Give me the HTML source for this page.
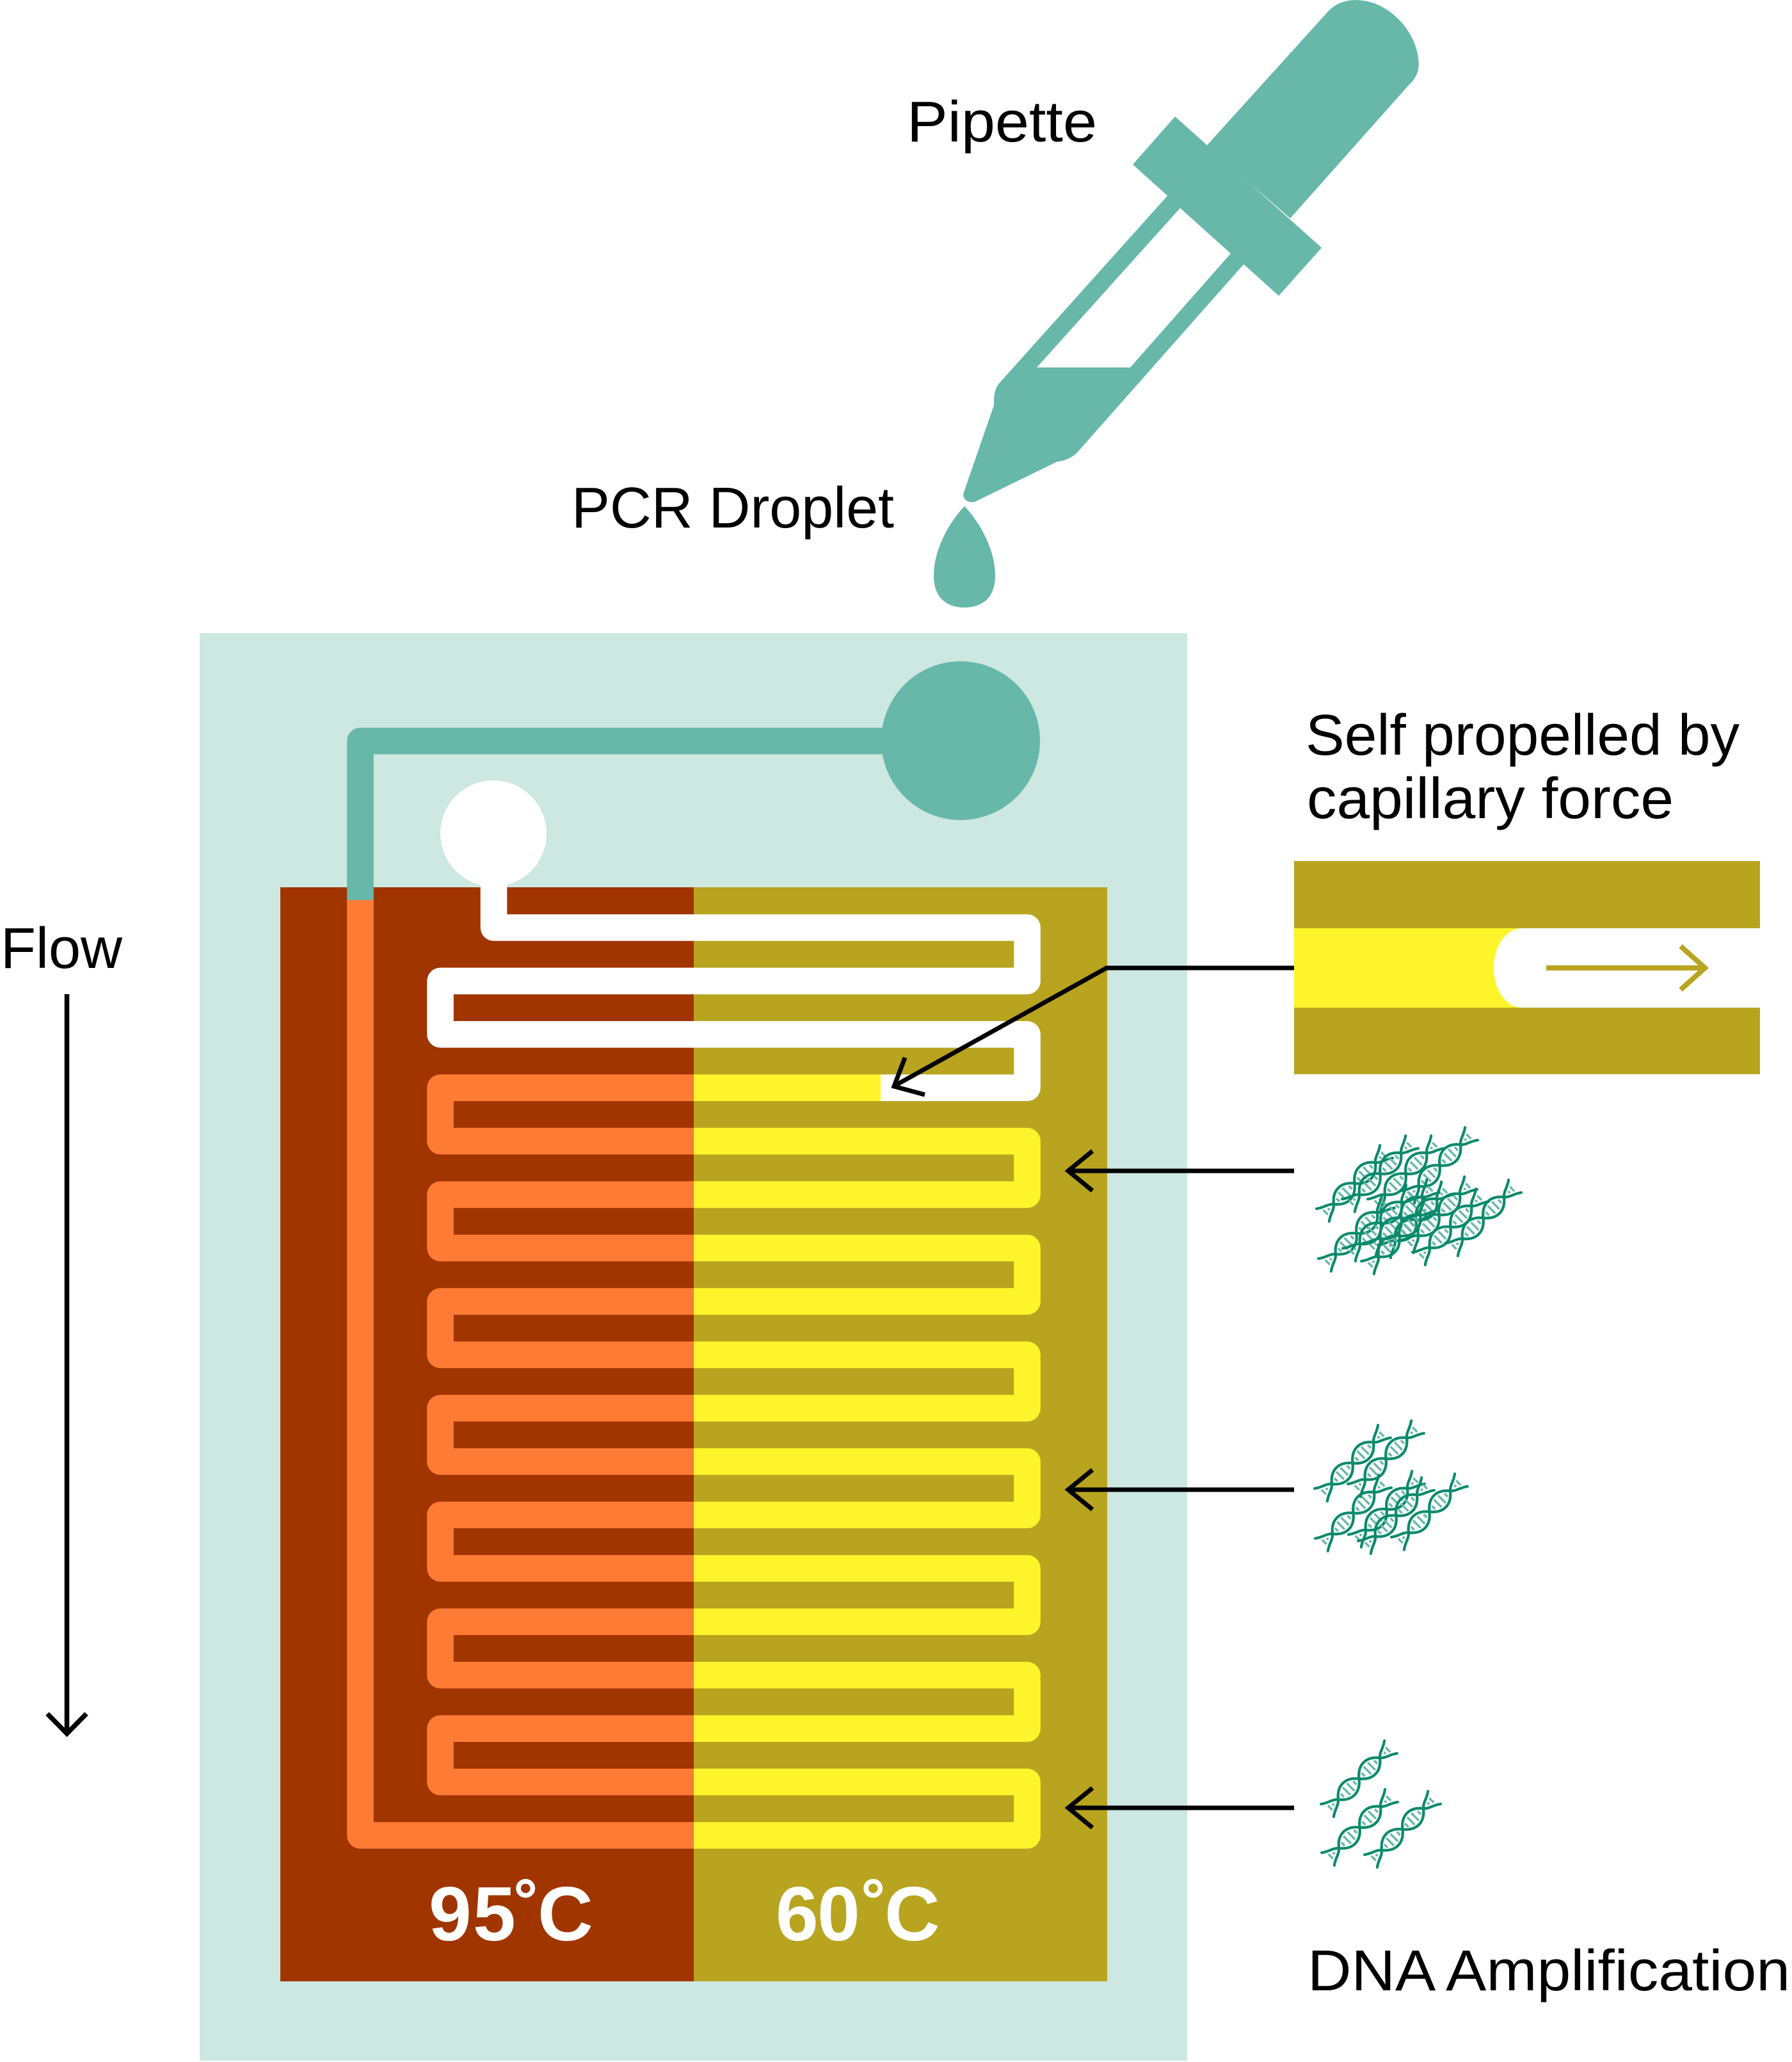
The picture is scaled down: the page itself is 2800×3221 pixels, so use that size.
<!DOCTYPE html>
<html>
<head>
<meta charset="utf-8">
<style>
html,body{margin:0;padding:0;background:#ffffff;}
svg{display:block;}
</style>
</head>
<body>
<svg width="2800" height="3221" viewBox="0 0 2800 3221" xmlns="http://www.w3.org/2000/svg">
<defs>
  <clipPath id="clipL"><rect x="0" y="0" width="1084" height="3221"/></clipPath>
  <clipPath id="clipR"><rect x="1084" y="0" width="1716" height="3221"/></clipPath>
  <g id="hx">
    <path d="M6,-5V5 M13,-2V2 M33.2,-3.6V3.6 M42.4,-8.4V8.4 M51.6,-8.4V8.4 M60.8,-3.6V3.6 M79.2,-3.6V3.6 M88.4,-8.4V8.4 M97.6,-8.4V8.4 M106.8,-3.6V3.6 M127,-2V2 M134,-5V5" stroke="#67B8A9" stroke-width="3.4" fill="none"/>
    <path d="M0,-14 C9,-7 18,-7 24,0 C37.8,17.3 56.2,17.3 70,0 C83.8,-17.3 102.2,-17.3 116,0 C122,7 131,7 140,14" stroke="#0A8A6C" stroke-width="4.2" fill="none" stroke-linecap="round"/>
    <path d="M0,14 C9,7 18,7 24,0 C37.8,-17.3 56.2,-17.3 70,0 C83.8,17.3 102.2,17.3 116,0 C122,-7 131,-7 140,-14" stroke="#0A8A6C" stroke-width="4.2" fill="none" stroke-linecap="round"/>
  </g>
</defs>

<rect x="0" y="0" width="2800" height="3221" fill="#ffffff"/>

<!-- Pipette -->
<path d="M1850,277 L1561,599 Q1553,609 1553,626 L1553,633 L1507,766 Q1502,778 1512,783 Q1518,786 1525,783 L1652,721 Q1671,719 1683,707 L1974,378 Z" fill="#67B8A9"/>
<polygon points="1844,325 1923,396 1766,574 1620,574" fill="#ffffff"/>
<polygon points="1836,182 1770,257 1998,462 2065,387" fill="#67B8A9"/>
<path d="M1885,228 L2075,18 C2090,2 2110,-2 2130,1 C2170,6 2210,45 2216,90 C2219,110 2213,122 2202,132 L2016,341 Z" fill="#67B8A9"/>
<!-- Droplet -->
<path d="M1507,791 C1490,808 1459,852 1459,900 C1459,934 1480,949 1507,949 C1534,949 1555,934 1555,900 C1555,852 1524,808 1507,791 Z" fill="#67B8A9"/>

<!-- Labels -->
<g font-family="'Liberation Sans', Arial, sans-serif" font-size="90" fill="#000">
  <text x="1417" y="221" textLength="297" lengthAdjust="spacingAndGlyphs">Pipette</text>
  <text x="893" y="824" textLength="504" lengthAdjust="spacingAndGlyphs">PCR Droplet</text>
  <text x="2040" y="1179" textLength="678" lengthAdjust="spacingAndGlyphs">Self propelled by</text>
  <text x="2042" y="1278" textLength="573" lengthAdjust="spacingAndGlyphs">capillary force</text>
  <text x="1" y="1512" textLength="190" lengthAdjust="spacingAndGlyphs">Flow</text>
  <text x="2043" y="3109" textLength="754" lengthAdjust="spacingAndGlyphs">DNA Amplification</text>
</g>

<!-- Flow arrow -->
<line x1="104.5" y1="1553" x2="104.5" y2="2706" stroke="#000" stroke-width="7.5"/>
<polyline points="74,2677 104.5,2708 135,2677" fill="none" stroke="#000" stroke-width="7.5"/>

<!-- Chip background -->
<rect x="312" y="989" width="1543" height="2230" fill="#CDE7E1"/>
<rect x="438" y="1386" width="646" height="1709" fill="#A03500"/>
<rect x="1084" y="1386" width="646" height="1709" fill="#B8A41F"/>

<!-- Green inlet channel -->
<path d="M1501,1157.5 H563 V1406" fill="none" stroke="#67B8A9" stroke-width="41.6" stroke-linejoin="round"/>
<circle cx="1501" cy="1157" r="124" fill="#67B8A9"/>

<!-- Empty (white) channel -->
<path d="M771.5,1302 V1449 H1605 V1532.4 H688 V1615.8 H1605 V1699.2 H1376" fill="none" stroke="#ffffff" stroke-width="41.6" stroke-linejoin="round"/>
<circle cx="771" cy="1302" r="83" fill="#ffffff"/>

<!-- Filled channel -->
<g fill="none" stroke-width="41.6" stroke-linejoin="round">
  <path clip-path="url(#clipL)" stroke="#FE7B35" d="M1376,1699.2 H688 V1782.6 H1605 V1866.1 H688 V1949.5 H1605 V2032.9 H688 V2116.3 H1605 V2199.7 H688 V2283.1 H1605 V2366.5 H688 V2449.9 H1605 V2533.3 H688 V2616.7 H1605 V2700.2 H688 V2783.6 H1605 V2867 H563 V1406"/>
  <path clip-path="url(#clipR)" stroke="#FEF42C" d="M1376,1699.2 H688 V1782.6 H1605 V1866.1 H688 V1949.5 H1605 V2032.9 H688 V2116.3 H1605 V2199.7 H688 V2283.1 H1605 V2366.5 H688 V2449.9 H1605 V2533.3 H688 V2616.7 H1605 V2700.2 H688 V2783.6 H1605 V2867 H563 V1406"/>
</g>

<!-- Temperature labels -->
<text font-family="'Liberation Sans', Arial, sans-serif" font-weight="bold" font-size="120" fill="#ffffff" y="3031"><tspan x="670">9</tspan><tspan x="739">5</tspan><tspan x="804">˚</tspan><tspan x="840">C</tspan></text>
<text font-family="'Liberation Sans', Arial, sans-serif" font-weight="bold" font-size="120" fill="#ffffff" y="3031"><tspan x="1212">6</tspan><tspan x="1277">0</tspan><tspan x="1347">˚</tspan><tspan x="1382">C</tspan></text>

<!-- Capillary inset -->
<rect x="2022" y="1345" width="728" height="333" fill="#B8A41F"/>
<rect x="2022" y="1450" width="400" height="124" fill="#FEF42C"/>
<path d="M2750,1450 H2378 A44,62 0 0 0 2378,1574 H2750 Z" fill="#ffffff"/>
<line x1="2416" y1="1512" x2="2662" y2="1512" stroke="#B8A41F" stroke-width="8"/>
<polyline points="2626,1478 2664,1512 2626,1546" fill="none" stroke="#B8A41F" stroke-width="8"/>

<!-- Leader arrow -->
<polyline points="2022,1512 1729,1512 1398,1696" fill="none" stroke="#000" stroke-width="7"/>
<polyline points="1414,1652 1397,1697 1445,1710" fill="none" stroke="#000" stroke-width="7"/>

<!-- Side arrows -->
<g fill="none" stroke="#000" stroke-width="7">
  <line x1="2022" y1="1829" x2="1672" y2="1829"/>
  <polyline points="1707,1798 1669,1829 1707,1860"/>
  <line x1="2022" y1="2327" x2="1672" y2="2327"/>
  <polyline points="1707,2296 1669,2327 1707,2358"/>
  <line x1="2022" y1="2824" x2="1672" y2="2824"/>
  <polyline points="1707,2793 1669,2824 1707,2855"/>
</g>

<!-- DNA clusters: top -->
<use href="#hx" transform="translate(2067,1898) rotate(-45)"/>
<use href="#hx" transform="translate(2107,1883) rotate(-45)"/>
<use href="#hx" transform="translate(2147,1883) rotate(-45)"/>
<use href="#hx" transform="translate(2200,1870) rotate(-45)"/>
<use href="#hx" transform="translate(2199,1947) rotate(-45)"/>
<use href="#hx" transform="translate(2268,1952) rotate(-45)"/>
<use href="#hx" transform="translate(2070,1976) rotate(-45)"/>
<use href="#hx" transform="translate(2108,1960) rotate(-45)"/>
<use href="#hx" transform="translate(2140,1952) rotate(-45)"/>
<use href="#hx" transform="translate(2163,1955) rotate(-45)"/>
<use href="#hx" transform="translate(2137,1980) rotate(-45)"/>
<use href="#hx" transform="translate(2217,1966) rotate(-45)"/>

<!-- DNA clusters: middle -->
<use href="#hx" transform="translate(2064,2335) rotate(-45)"/>
<use href="#hx" transform="translate(2116,2328) rotate(-45)"/>
<use href="#hx" transform="translate(2065,2413) rotate(-45)"/>
<use href="#hx" transform="translate(2117,2407) rotate(-45)"/>
<use href="#hx" transform="translate(2132,2417) rotate(-45)"/>
<use href="#hx" transform="translate(2184,2411) rotate(-45)"/>

<!-- DNA clusters: bottom -->
<use href="#hx" transform="translate(2074,2828) rotate(-45)"/>
<use href="#hx" transform="translate(2075,2904) rotate(-45)"/>
<use href="#hx" transform="translate(2142,2907) rotate(-45)"/>
</svg>
</body>
</html>
